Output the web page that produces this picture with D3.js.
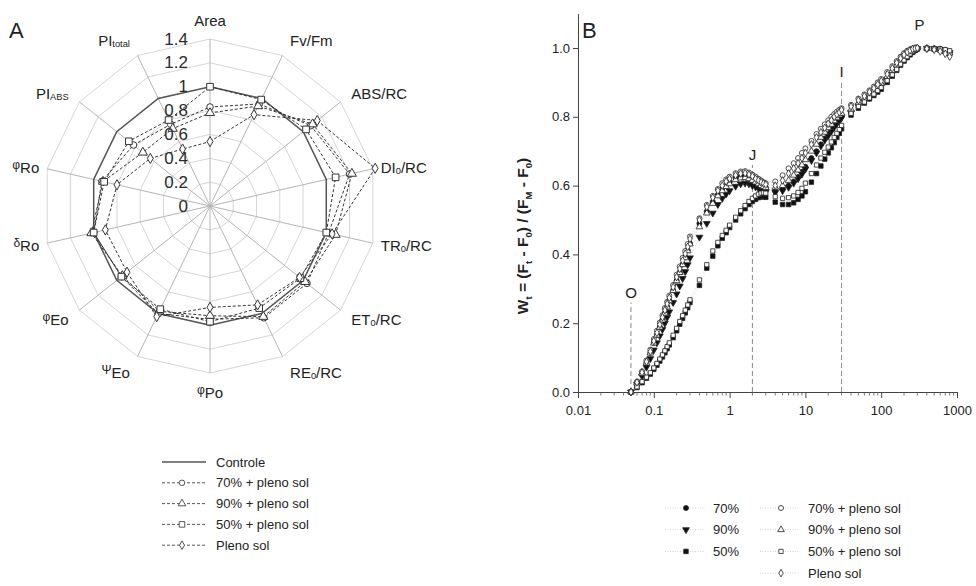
<!DOCTYPE html>
<html lang="pt">
<head>
<meta charset="UTF-8">
<title>Radar JIP e curvas OJIP</title>
<script src="https://d3js.org/d3.v7.min.js"></script>
<style>
  body { margin: 0; background: #fff; }
  svg { font-family: "Liberation Sans", Arial, sans-serif; }
</style>
</head>
<body>
<div id="chart"></div>
<script>
// ---------- dados: painel A (radar) ----------
// {x} = subscrito, [x] = letra grega pequena
const radarAxes = ["Area", "Fv/Fm", "ABS/RC", "DI{0}/RC", "TR{0}/RC", "ET{0}/RC", "RE{0}/RC",
  "[φ]Po", "[Ψ]Eo", "[φ]Eo", "[δ]Ro", "[φ]Ro", "PI{ABS}", "PI{total}"];
const radarTicks = [0, 0.2, 0.4, 0.6, 0.8, 1, 1.2, 1.4];
const radarControle = [1, 1, 1, 1, 1, 1, 1, 1, 1, 1, 1, 1, 1, 1];
const radar70p   = [0.83, 0.95, 1.08, 1.20, 1.02, 1.04, 1.04, 0.95, 1.00, 0.95, 1.00, 0.93, 0.82, 0.76];
const radar90p   = [0.78, 0.93, 1.10, 1.22, 1.08, 1.02, 1.03, 0.92, 0.98, 0.94, 1.02, 0.92, 0.72, 0.72];
const radar50p   = [1.00, 0.99, 1.03, 1.08, 1.00, 0.97, 0.95, 0.97, 0.96, 0.95, 1.00, 0.91, 0.87, 0.80];
const radarPleno = [0.54, 0.85, 1.15, 1.42, 1.05, 0.96, 0.92, 0.85, 1.03, 0.89, 0.90, 0.80, 0.64, 0.53];
const radarNames = ["Controle", "70% + pleno sol", "90% + pleno sol", "50% + pleno sol", "Pleno sol"];

// ---------- dados: painel B (OJIP) ----------
const ojipTimes = [
  0.05, 0.06, 0.07, 0.08, 0.09, 0.10, 0.11, 0.12, 0.13, 0.14, 0.15, 0.16, 0.18, 0.20, 0.22, 0.24, 0.26, 0.28, 0.30,
  0.4, 0.5, 0.6, 0.7, 0.8, 0.9, 1.0, 1.2, 1.4, 1.6, 1.8, 2.0, 2.2, 2.4, 2.6, 2.8, 3.0,
  4, 5, 6, 7, 8, 9, 10, 12, 14, 16, 18, 20, 22, 24, 26, 28, 30,
  40, 50, 60, 70, 80, 90, 100, 120, 140, 160, 180, 200, 220, 240, 260, 280, 300,
  400, 500, 600, 700, 800];
const w70 = [
  0, 0.027, 0.055, 0.085, 0.114, 0.143, 0.166, 0.189, 0.210, 0.230, 0.248, 0.266, 0.296, 0.324, 0.348, 0.371, 0.392, 0.412, 0.432,
  0.490, 0.525, 0.553, 0.573, 0.590, 0.600, 0.610, 0.622, 0.627, 0.628, 0.625, 0.620, 0.614, 0.608, 0.603, 0.598, 0.595,
  0.585, 0.590, 0.600, 0.612, 0.625, 0.640, 0.655, 0.680, 0.700, 0.720, 0.737, 0.750, 0.762, 0.773, 0.783, 0.790, 0.800,
  0.815, 0.835, 0.848, 0.860, 0.871, 0.882, 0.892, 0.912, 0.930, 0.946, 0.960, 0.971, 0.980, 0.987, 0.992, 0.996, 0.998,
  0.999, 0.998, 0.996, 0.993, 0.988];
const w90 = [
  0, 0.022, 0.046, 0.072, 0.097, 0.122, 0.143, 0.163, 0.182, 0.200, 0.217, 0.233, 0.260, 0.285, 0.308, 0.330, 0.350, 0.370, 0.390,
  0.450, 0.490, 0.520, 0.545, 0.563, 0.575, 0.585, 0.598, 0.605, 0.607, 0.605, 0.600, 0.596, 0.592, 0.588, 0.585, 0.582,
  0.580, 0.585, 0.595, 0.607, 0.620, 0.633, 0.648, 0.673, 0.695, 0.715, 0.732, 0.745, 0.758, 0.770, 0.780, 0.788, 0.797,
  0.812, 0.832, 0.845, 0.857, 0.868, 0.879, 0.889, 0.909, 0.927, 0.943, 0.957, 0.968, 0.977, 0.985, 0.991, 0.995, 0.998,
  0.999, 0.998, 0.996, 0.992, 0.986];
const w50 = [
  0, 0.013, 0.027, 0.040, 0.052, 0.066, 0.078, 0.090, 0.102, 0.114, 0.126, 0.137, 0.158, 0.178, 0.197, 0.214, 0.230, 0.245, 0.260,
  0.310, 0.360, 0.395, 0.425, 0.447, 0.463, 0.478, 0.500, 0.518, 0.533, 0.545, 0.554, 0.560, 0.565, 0.567, 0.568, 0.566,
  0.552, 0.545, 0.545, 0.550, 0.560, 0.570, 0.582, 0.610, 0.635, 0.657, 0.677, 0.695, 0.710, 0.725, 0.740, 0.752, 0.765,
  0.805, 0.825, 0.840, 0.852, 0.862, 0.872, 0.880, 0.900, 0.918, 0.935, 0.950, 0.962, 0.972, 0.980, 0.987, 0.993, 0.997,
  0.998, 0.997, 0.995, 0.990, 0.985];
const w70p = [
  0, 0.030, 0.060, 0.092, 0.123, 0.154, 0.178, 0.202, 0.223, 0.244, 0.262, 0.280, 0.311, 0.341, 0.365, 0.390, 0.410, 0.430, 0.452,
  0.505, 0.544, 0.570, 0.590, 0.607, 0.618, 0.626, 0.636, 0.641, 0.642, 0.638, 0.632, 0.626, 0.620, 0.615, 0.610, 0.607,
  0.612, 0.630, 0.650, 0.665, 0.680, 0.695, 0.708, 0.730, 0.750, 0.765, 0.778, 0.790, 0.800, 0.808, 0.815, 0.820, 0.825,
  0.835, 0.853, 0.865, 0.877, 0.888, 0.900, 0.910, 0.930, 0.947, 0.962, 0.975, 0.985, 0.992, 0.996, 0.999, 1.000, 1.000,
  1.000, 0.999, 0.998, 0.995, 0.990];
const w90p = [
  0, 0.026, 0.054, 0.084, 0.113, 0.142, 0.165, 0.188, 0.209, 0.229, 0.247, 0.265, 0.295, 0.323, 0.347, 0.370, 0.390, 0.410, 0.430,
  0.480, 0.520, 0.548, 0.570, 0.585, 0.597, 0.605, 0.617, 0.622, 0.623, 0.620, 0.615, 0.610, 0.605, 0.600, 0.597, 0.594,
  0.595, 0.600, 0.615, 0.630, 0.645, 0.660, 0.675, 0.700, 0.720, 0.740, 0.755, 0.768, 0.778, 0.788, 0.797, 0.805, 0.810,
  0.822, 0.840, 0.853, 0.865, 0.876, 0.887, 0.897, 0.917, 0.934, 0.950, 0.963, 0.974, 0.983, 0.990, 0.995, 0.998, 1.000,
  0.999, 0.997, 0.994, 0.990, 0.985];
const w50p = [
  0, 0.015, 0.030, 0.043, 0.056, 0.070, 0.083, 0.096, 0.108, 0.120, 0.132, 0.143, 0.165, 0.185, 0.205, 0.222, 0.238, 0.253, 0.268,
  0.326, 0.370, 0.410, 0.435, 0.455, 0.470, 0.485, 0.508, 0.527, 0.542, 0.554, 0.563, 0.570, 0.575, 0.578, 0.579, 0.578,
  0.568, 0.563, 0.565, 0.570, 0.580, 0.592, 0.607, 0.635, 0.660, 0.680, 0.697, 0.712, 0.727, 0.740, 0.752, 0.763, 0.775,
  0.810, 0.830, 0.843, 0.855, 0.866, 0.876, 0.885, 0.905, 0.922, 0.938, 0.953, 0.965, 0.975, 0.983, 0.990, 0.995, 0.998,
  0.999, 0.998, 0.997, 0.995, 0.992];
const wPleno = [
  0, 0.028, 0.057, 0.088, 0.118, 0.148, 0.172, 0.196, 0.217, 0.238, 0.256, 0.274, 0.305, 0.334, 0.358, 0.382, 0.402, 0.422, 0.445,
  0.500, 0.538, 0.565, 0.585, 0.600, 0.612, 0.620, 0.630, 0.635, 0.636, 0.632, 0.627, 0.620, 0.615, 0.610, 0.606, 0.603,
  0.600, 0.615, 0.635, 0.650, 0.665, 0.680, 0.695, 0.720, 0.740, 0.755, 0.768, 0.780, 0.790, 0.800, 0.807, 0.813, 0.820,
  0.830, 0.848, 0.860, 0.872, 0.883, 0.894, 0.904, 0.924, 0.941, 0.957, 0.970, 0.980, 0.988, 0.993, 0.997, 0.999, 1.000,
  0.998, 0.995, 0.990, 0.983, 0.975];
const ojipNames = ["70%", "90%", "50%", "70% + pleno sol", "90% + pleno sol", "50% + pleno sol", "Pleno sol"];
const xTicks = [0.01, 0.1, 1, 10, 100, 1000];
const yTicks = [0, 0.2, 0.4, 0.6, 0.8, 1.0];
const phaseNames = ["O", "J", "I", "P"];
const phaseTimes = [0.05, 2, 30, 320];
const phaseTops = [0.26, 0.66, 0.9, 1.037];

// ---------- svg ----------
const width = 976, height = 586;
const svg = d3.select("#chart").append("svg")
  .attr("width", width).attr("height", height);

const ink = "#222";

// escreve rótulos com subscritos {..} e gregos [..]
function richText(sel, str, size) {
  const parts = str.split(/(\{[^}]*\}|\[[^\]]*\])/).filter(p => p.length);
  let shift = 0;
  parts.forEach(p => {
    let t, dy, fs;
    if (p[0] === "{") { t = p.slice(1, -1); dy = 4; fs = size * 0.62; }
    else if (p[0] === "[") { t = p.slice(1, -1); dy = -2; fs = size * 0.8; }
    else { t = p; dy = 0; fs = size; }
    sel.append("tspan").attr("dy", dy - shift).attr("font-size", fs).text(t);
    shift = dy;
  });
}

// ================= painel A =================
const cx = 210, cy = 206;
const n = radarAxes.length;
const rScale = d3.scaleLinear().domain([0, 1.4]).range([0, 167]);
const ang = i => i * 2 * Math.PI / n;

const gA = svg.append("g").attr("transform", `translate(${cx},${cy})`);

// anéis
radarTicks.filter(t => t > 0).forEach(t => {
  gA.append("path")
    .attr("d", d3.lineRadial().angle((d, i) => ang(i)).radius(() => rScale(t))
      .curve(d3.curveLinearClosed)(radarAxes))
    .attr("fill", "none").attr("stroke", "#d6d6d6").attr("stroke-width", 1);
});
// raios
radarAxes.forEach((a, i) => {
  const r = rScale(1.4);
  gA.append("line")
    .attr("x1", 0).attr("y1", 0)
    .attr("x2", r * Math.sin(ang(i))).attr("y2", -r * Math.cos(ang(i)))
    .attr("stroke", "#b5b5b5").attr("stroke-width", 1);
});
// rótulos dos eixos
radarAxes.forEach((a, i) => {
  const s = Math.sin(ang(i)), c = Math.cos(ang(i));
  const R = 172 + 14 * Math.abs(c);
  const t = gA.append("text")
    .attr("x", R * s).attr("y", -R * c)
    .attr("dominant-baseline", "central")
    .attr("text-anchor", s > 0.15 ? "start" : (s < -0.15 ? "end" : "middle"))
    .attr("fill", ink);
  richText(t, a, 15);
});

const radarSeries = [radarControle, radar70p, radar90p, radar50p, radarPleno];
const radarSym = [null, d3.symbolCircle, d3.symbolTriangle, d3.symbolSquare, d3.symbolDiamond];
const radarSymSize = [0, 34, 36, 44, 30];

const radarLine = d3.lineRadial()
  .angle((d, i) => ang(i)).radius(d => rScale(d))
  .curve(d3.curveLinearClosed);

radarSeries.forEach((vals, k) => {
  gA.append("path")
    .attr("d", radarLine(vals))
    .attr("fill", "none")
    .attr("stroke", k === 0 ? "#555" : "#333")
    .attr("stroke-width", k === 0 ? 1.5 : 1)
    .attr("stroke-dasharray", k === 0 ? null : "3,2");
});
radarSeries.forEach((vals, k) => {
  if (!radarSym[k]) return;
  gA.selectAll(null).data(vals).enter().append("path")
    .attr("d", d3.symbol().type(radarSym[k]).size(radarSymSize[k]))
    .attr("transform", (d, i) =>
      `translate(${rScale(d) * Math.sin(ang(i))},${-rScale(d) * Math.cos(ang(i))})`)
    .attr("fill", "#fff").attr("stroke", "#333").attr("stroke-width", 1);
});

// rótulos dos anéis (por cima)
gA.selectAll(null).data(radarTicks).enter().append("text")
  .attr("x", -22).attr("y", d => -rScale(d))
  .attr("dominant-baseline", "central")
  .attr("text-anchor", "end")
  .attr("font-size", 17).attr("fill", "#2b2b2b")
  .text(d => d);

svg.append("text").attr("x", 9).attr("y", 38).attr("font-size", 22).attr("fill", ink).text("A");

// legenda A
const legA = svg.append("g").attr("transform", "translate(162,462)");
radarNames.forEach((name, k) => {
  const g = legA.append("g").attr("transform", `translate(0,${k * 20.8})`);
  g.append("line").attr("x1", 0).attr("x2", 44)
    .attr("stroke", k === 0 ? "#555" : "#444")
    .attr("stroke-width", k === 0 ? 1.3 : 0.9)
    .attr("stroke-dasharray", k === 0 ? null : "3,2");
  if (radarSym[k]) {
    g.append("path").attr("d", d3.symbol().type(radarSym[k]).size(radarSymSize[k] * 0.7))
      .attr("transform", "translate(20,0)")
      .attr("fill", "#fff").attr("stroke", "#444").attr("stroke-width", 0.9);
  }
  g.append("text").attr("x", 54).attr("dominant-baseline", "central")
    .attr("font-size", 13).attr("fill", ink).text(name);
});

// ================= painel B =================
const x = d3.scaleLog().domain([0.01, 1000]).range([578, 957]);
const y = d3.scaleLinear().domain([0, 1.1]).range([392, 13.6]);

const yAxis = svg.append("g").attr("transform", "translate(578,0)")
  .call(d3.axisLeft(y).tickValues(yTicks).tickFormat(d3.format(".1f")).tickSize(5).tickSizeOuter(0));
const xAxis = svg.append("g").attr("transform", "translate(0,392)")
  .call(d3.axisBottom(x).tickValues(xTicks).tickFormat(d => d).tickSize(6).tickSizeOuter(0));
[yAxis, xAxis].forEach(ax => {
  ax.selectAll("path, line").attr("stroke", "#444");
  ax.selectAll("text").attr("font-size", 13).attr("fill", ink)
    .attr("font-family", "Liberation Sans, Arial, sans-serif");
});
xAxis.selectAll("text").attr("dy", "1.05em");
// marcas menores
svg.append("g").selectAll(null)
  .data(x.ticks().filter(t => !xTicks.some(v => Math.abs(v - t) < 1e-9)))
  .enter().append("line")
  .attr("x1", d => x(d)).attr("x2", d => x(d))
  .attr("y1", 392).attr("y2", 395.5)
  .attr("stroke", "#555").attr("stroke-width", 0.8);

// título do eixo y
const yl = svg.append("text")
  .attr("transform", "translate(528,236) rotate(-90)")
  .attr("text-anchor", "middle").attr("font-weight", "bold").attr("fill", ink);
richText(yl, "W{t} = (F{t} - F{0}) / (F{M} - F{0})", 15.5);

// linhas das fases O, J, I e rótulos
phaseNames.forEach((p, i) => {
  if (p !== "P") {
    svg.append("line")
      .attr("x1", x(phaseTimes[i])).attr("x2", x(phaseTimes[i]))
      .attr("y1", y(0)).attr("y2", y(phaseTops[i]))
      .attr("stroke", "#8a8a8a").attr("stroke-width", 1).attr("stroke-dasharray", "5,3");
  }
  svg.append("text")
    .attr("x", x(phaseTimes[i])).attr("y", y(phaseTops[i]) - 5)
    .attr("text-anchor", "middle").attr("font-size", 15).attr("fill", ink).text(p);
});

const ojipSeries = [w70, w90, w50, w70p, w90p, w50p, wPleno];
const ojipSym = [d3.symbolCircle, d3.symbolTriangle, d3.symbolSquare,
  d3.symbolCircle, d3.symbolTriangle, d3.symbolSquare, d3.symbolDiamond];
const ojipFilled = [true, true, true, false, false, false, false];
const ojipRot = [0, 180, 0, 0, 0, 0, 0];
const ojipSize = [20, 20, 20, 20, 19, 18, 17];

const ojipLine = d3.line().x((d, i) => x(ojipTimes[i])).y(d => y(d));
ojipSeries.forEach(vals => {
  svg.append("path").attr("d", ojipLine(vals))
    .attr("fill", "none").attr("stroke", "#c8c8c8")
    .attr("stroke-width", 0.6).attr("stroke-dasharray", "1,1.5");
});
ojipSeries.forEach((vals, k) => {
  svg.append("g").selectAll("path").data(vals).enter().append("path")
    .attr("d", d3.symbol().type(ojipSym[k]).size(ojipSize[k]))
    .attr("transform", (d, i) => `translate(${x(ojipTimes[i])},${y(d)}) rotate(${ojipRot[k]})`)
    .attr("fill", ojipFilled[k] ? "#111" : "#fff")
    .attr("stroke", "#222").attr("stroke-width", 0.8);
});

svg.append("text").attr("x", 582).attr("y", 38).attr("font-size", 22).attr("fill", ink).text("B");

// legenda B
const legB = svg.append("g");
ojipNames.forEach((name, k) => {
  const col = ojipFilled[k] ? 0 : 1;
  const row = ojipFilled[k] ? k : k - 3;
  const gx = col === 0 ? 665 : 760;
  const g = legB.append("g").attr("transform", `translate(${gx},${508 + row * 21.7})`);
  g.append("line").attr("x1", 0).attr("x2", 40)
    .attr("stroke", "#c4c4c4").attr("stroke-width", 0.8).attr("stroke-dasharray", "1,1.5");
  g.append("path").attr("d", d3.symbol().type(ojipSym[k]).size(ojipSize[k]))
    .attr("transform", `translate(21,0) rotate(${ojipRot[k]})`)
    .attr("fill", ojipFilled[k] ? "#111" : "#fff")
    .attr("stroke", "#222").attr("stroke-width", 0.8);
  g.append("text").attr("x", 48).attr("dominant-baseline", "central")
    .attr("font-size", 13).attr("fill", ink).text(name);
});
</script>
</body>
</html>
